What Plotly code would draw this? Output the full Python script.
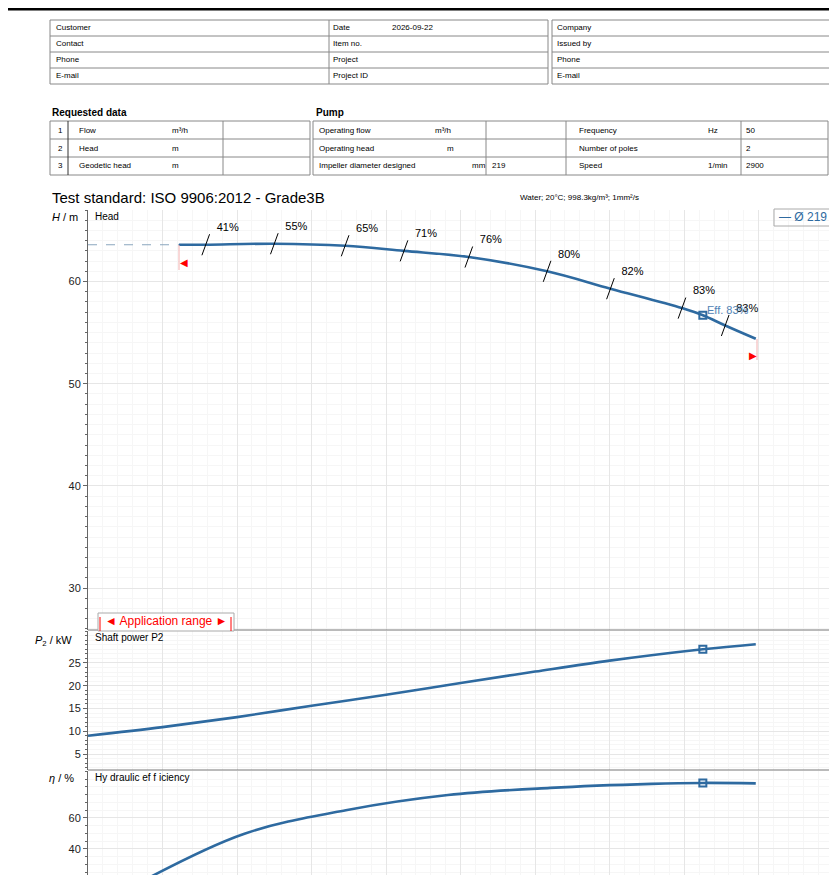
import plotly.graph_objects as go

W, H = 829, 867   # page body has an 8px margin
OFF = 8

# ---- data ----
q_head = [12.2, 15.8, 25.0, 34.5, 42.4, 51.1, 61.6, 70.1, 79.7, 82.5, 85.5, 89.6]
head = [63.6, 63.6, 63.7, 63.5, 63.0, 62.4, 61.0, 59.3, 57.4, 56.7, 55.7, 54.4]
q_dash = [0, 12.2]
head_dash = [63.6, 63.6]

q_eff_marks = [15.8, 25.0, 34.5, 42.4, 51.1, 61.6, 70.1, 79.7, 85.5]
h_eff_marks = [63.6, 63.7, 63.5, 63.0, 62.4, 61.0, 59.3, 57.4, 55.7]
eff_labels = ["41%", "55%", "65%", "71%", "76%", "80%", "82%", "83%", "83%"]

q_power = [0, 10, 20, 30, 40, 50, 60, 70, 82.5, 89.6]
power = [9.0, 10.9, 13.1, 15.6, 18.0, 20.6, 23.1, 25.5, 28.0, 29.1]

q_eff = [7.6, 20.9, 34.6, 48.3, 62, 75.6, 82.5, 89.6]
eff = [20.0, 49.7, 65.0, 74.8, 79.4, 82.0, 82.6, 82.3]

q_bep, h_bep, p_bep, e_bep = 82.5, 56.7, 28.0, 82.6

BLUE = "#2e6aa0"
FONT = "Liberation Sans"

def px(x):
    return (x - OFF) / W

def py(y):
    return 1 - (y - OFF) / H

fig = go.Figure()

# head
fig.add_trace(go.Scatter(x=q_dash, y=head_dash, mode="lines", xaxis="x", yaxis="y",
                         line=dict(color="#8aa7bf", width=1.2, dash="dash"), showlegend=False))
fig.add_trace(go.Scatter(x=q_head, y=head, mode="lines", xaxis="x", yaxis="y",
                         line=dict(color=BLUE, width=2.6, shape="spline"), showlegend=False))
fig.add_trace(go.Scatter(x=q_eff_marks, y=h_eff_marks, mode="markers+text", xaxis="x", yaxis="y",
                         marker=dict(symbol="line-ns-open", size=16, angle=20, color="black",
                                     line=dict(color="black", width=1)),
                         text=eff_labels, textposition="top right",
                         textfont=dict(family=FONT, size=11, color="black"), showlegend=False))
fig.add_trace(go.Scatter(x=[q_bep], y=[h_bep], mode="markers", xaxis="x", yaxis="y",
                         marker=dict(symbol="square-open", size=7, color=BLUE,
                                     line=dict(width=2)), showlegend=False))
# power
fig.add_trace(go.Scatter(x=q_power, y=power, mode="lines", xaxis="x2", yaxis="y2",
                         line=dict(color=BLUE, width=2.6, shape="spline"), showlegend=False))
fig.add_trace(go.Scatter(x=[q_bep], y=[p_bep], mode="markers", xaxis="x2", yaxis="y2",
                         marker=dict(symbol="square-open", size=7, color=BLUE,
                                     line=dict(width=2)), showlegend=False))
# efficiency
fig.add_trace(go.Scatter(x=q_eff, y=eff, mode="lines", xaxis="x3", yaxis="y3",
                         line=dict(color=BLUE, width=2.6, shape="spline", smoothing=1.0),
                         showlegend=False))
fig.add_trace(go.Scatter(x=[q_bep], y=[e_bep], mode="markers", xaxis="x3", yaxis="y3",
                         marker=dict(symbol="square-open", size=7, color=BLUE,
                                     line=dict(width=2)), showlegend=False))

xdom = [px(88), 1.0]
xcommon = dict(domain=xdom, range=[0, 100.5], showticklabels=False, ticks="",
               showgrid=True, gridcolor="#e6e6e6", dtick=10, zeroline=False,
               minor=dict(dtick=2, showgrid=True, gridcolor="#f6f6f6"))
ycommon = dict(showgrid=True, gridcolor="#e6e6e6", zeroline=False, showline=True,
               linecolor="#666", linewidth=1, ticks="outside", ticklen=4, tickcolor="#666",
               tickfont=dict(family=FONT, size=11, color="#222"))

fig.update_layout(
    width=W, height=H, margin=dict(l=0, r=0, t=0, b=0),
    paper_bgcolor="white", plot_bgcolor="white",
    xaxis=dict(xcommon, anchor="y"),
    xaxis2=dict(xcommon, anchor="y2", matches="x"),
    xaxis3=dict(xcommon, anchor="y3", matches="x"),
    yaxis=dict(ycommon, domain=[py(630), py(210)], range=[25.9, 67.0], tickvals=[30, 40, 50, 60],
               minor=dict(dtick=1, ticks="outside", ticklen=2, showgrid=True, gridcolor="#f6f6f6")),
    yaxis2=dict(ycommon, domain=[py(770), py(631)], range=[1.5, 32.0], tickvals=[5, 10, 15, 20, 25],
                minor=dict(dtick=1, ticks="outside", ticklen=2, showgrid=True, gridcolor="#f6f6f6")),
    yaxis3=dict(ycommon, domain=[0, py(771)], range=[23.2, 90.3], tickvals=[40, 60],
                minor=dict(dtick=5, ticks="outside", ticklen=2, showgrid=True, gridcolor="#f6f6f6")),
)

shapes = []
ann = []

def line(x0, y0, x1, y1, color="#888", width=1):
    shapes.append(dict(type="line", xref="paper", yref="paper", x0=px(x0), y0=py(y0),
                       x1=px(x1), y1=py(y1), line=dict(color=color, width=width)))

def rect(x0, y0, x1, y1, color="#888", width=1, fill=None):
    shapes.append(dict(type="rect", xref="paper", yref="paper", x0=px(x0), y0=py(y0),
                       x1=px(x1), y1=py(y1), line=dict(color=color, width=width),
                       fillcolor=fill or "rgba(0,0,0,0)"))

def text(x, y, s, size=8, anchor="left", color="black", bold=False, fam=FONT):
    ann.append(dict(xref="paper", yref="paper", x=px(x), y=py(y), text=f"<b>{s}</b>" if bold else s,
                    showarrow=False, xanchor=anchor, yanchor="middle",
                    font=dict(family=fam, size=size, color=color)))

# top rule
line(8, 9, 837, 9, color="black", width=3)

# contact tables
rows = [20, 36, 52, 68, 84]
rect(50, 20, 548, 84)
rect(552, 20, 845, 84)
for r in rows[1:-1]:
    line(50, r, 548, r)
    line(552, r, 845, r)
line(329, 20, 329, 84)
for i, (a, b, c) in enumerate(zip(["Customer", "Contact", "Phone", "E-mail"],
                                  ["Date", "Item no.", "Project", "Project ID"],
                                  ["Company", "Issued by", "Phone", "E-mail"])):
    yc = rows[i] + 8
    text(54, yc, a)
    text(331, yc, b)
    text(555, yc, c)
text(390, 28, "2026-09-22")

# requested data
text(50, 113, "Requested data", size=10, bold=True)
text(314, 113, "Pump", size=10, bold=True)
prow = [121, 139, 157, 175]
rect(50, 121, 310, 175)
rect(313, 121, 828, 175)
for r in prow[1:-1]:
    line(50, r, 310, r)
    line(313, r, 828, r)
line(68, 121, 68, 175, color="#333")
line(223, 121, 223, 175)
for xv in (486, 566, 741):
    line(xv, 121, xv, 175)
for i, (lab, unit) in enumerate([("Flow", "m³/h"), ("Head", "m"), ("Geodetic head", "m")]):
    yc = prow[i] + 9
    text(65, yc, str(i + 1), anchor="right")
    text(77, yc, lab)
    text(170, yc, unit)
for i, (lab, unit, ux) in enumerate([("Operating flow", "m³/h", 433), ("Operating head", "m", 445),
                                     ("Impeller diameter designed", "mm", 470)]):
    yc = prow[i] + 9
    text(317, yc, lab)
    text(ux, yc, unit)
text(490, 166, "219")
for i, (lab, unit, val) in enumerate([("Frequency", "Hz", "50"), ("Number of poles", "", "2"),
                                      ("Speed", "1/min", "2900")]):
    yc = prow[i] + 9
    text(577, yc, lab)
    text(706, yc, unit)
    text(744, yc, val)

text(50, 197, "Test standard: ISO 9906:2012 - Grade3B", size=15)
text(518, 197, "Water; 20°C; 998.3kg/m³; 1mm²/s", size=8)

# panel labels
text(93, 216, "Head", size=10)
text(93, 637, "Shaft power P2", size=10)
text(93, 777, "Hy draulic ef f iciency", size=10)
text(80, 217, "<i>H</i> / m", size=11, anchor="right")
text(74, 641, "<i>P</i><sub>2</sub> / kW", size=11, anchor="right")
text(76, 778, "<i>η</i> / %", size=11, anchor="right")

# panel separators
line(88, 630, 837, 630, color="#777")
line(88, 770, 837, 770, color="#777")

# legend box
rect(774, 209, 832, 226, color="#aaa")
text(829, 217, "— Ø 219", size=12, color=BLUE, anchor="right")

# BEP label
text(705, 310, "Eff. 83%", size=11, color="#4f82b5")

# application range
rect(98, 613, 234, 631, color="#aaa", fill="white")
line(100, 617, 100, 631, color="red")
line(231, 617, 231, 631, color="red")
text(166, 621, "◄ Application range ►", size=12, color="red", anchor="center")
line(179, 245, 179, 270, color="#f3b0b0")
line(757, 339, 757, 360, color="#f3b0b0")
text(184, 262, "◀", size=10, color="red", anchor="center")
text(753, 355, "▶", size=10, color="red", anchor="center")

fig.update_layout(shapes=shapes, annotations=ann)
fig.write_html("out.html")
